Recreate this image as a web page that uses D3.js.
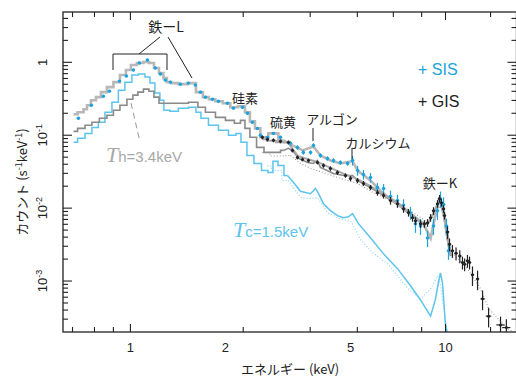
<!DOCTYPE html>
<html><head><meta charset="utf-8">
<script src="https://cdn.jsdelivr.net/npm/d3@7/dist/d3.min.js"></script>
<style>body{margin:0;background:#fff}svg{display:block}</style>
</head><body>
<svg id="c" width="516" height="380"></svg>
<script>
// ---------- data ----------
const sisE = [0.684,0.752,0.821,0.858,0.923,0.971,1.022,1.068,1.132,1.200,1.245,1.291,1.340,1.441,1.528,1.608,1.668,1.730,1.821,1.903,2.032,2.123,2.268,2.352,2.439,2.530,2.587,2.723,2.844,2.994,3.221,3.39,3.54,3.73,3.81,4.01,4.22,4.41,4.64,4.89,5.07,5.26,5.49,5.78,6.08,6.36,6.69,7.04,7.36,7.74,8.03,8.33,8.77,9.16,9.43,9.64,9.86,10.07,10.22];
const sisV = [0.171,0.258,0.343,0.402,0.553,0.648,0.783,0.978,1.076,0.835,0.690,0.570,0.535,0.502,0.519,0.487,0.390,0.333,0.312,0.293,0.275,0.235,0.242,0.200,0.151,0.124,0.0997,0.0936,0.106,0.0936,0.0774,0.0681,0.0581,0.0581,0.0726,0.0528,0.0481,0.0451,0.0423,0.0410,0.0451,0.0328,0.029,0.0263,0.0192,0.0186,0.0145,0.0127,0.011,0.00867,0.0061,0.0057,0.0039,0.0057,0.0092,0.0135,0.0112,0.0057,0.0026];
const sisErr = [0.04,0.04,0.04,0.04,0.04,0.04,0.04,0.04,0.04,0.04,0.04,0.04,0.04,0.04,0.04,0.04,0.04,0.04,0.04,0.04,0.04,0.04,0.04,0.04,0.04,0.04,0.04,0.04,0.04,0.04,0.07,0.07,0.07,0.07,0.07,0.07,0.07,0.07,0.07,0.07,0.15,0.15,0.15,0.15,0.15,0.15,0.2,0.2,0.2,0.2,0.25,0.25,0.25,0.25,0.25,0.25,0.25,0.25,0.25];

const gisE = [2.624,2.723,2.844,2.994,3.174,3.268,3.39,3.516,3.674,3.924,4.10,4.313,4.54,4.815,4.994,5.256,5.492,5.781,6.083,6.357,6.691,7.041,7.357,7.63,7.857,8.03,8.33,8.57,8.769,8.965,9.161,9.433,9.572,9.712,9.855,9.927,10.15,10.30,10.52,10.8,11.1,11.32,11.5,11.74,11.92,12.18,12.64,13.11,13.70,14.95,15.6];
const gisV = [0.0936,0.0878,0.0851,0.0824,0.0798,0.0619,0.0496,0.0466,0.0451,0.0423,0.0385,0.0350,0.0308,0.0280,0.0255,0.0239,0.0218,0.0192,0.0163,0.0149,0.0127,0.0115,0.0098,0.0087,0.0074,0.0067,0.0061,0.0061,0.0063,0.0074,0.0092,0.0115,0.0135,0.0119,0.0098,0.0079,0.0047,0.0032,0.0026,0.0024,0.0022,0.0018,0.0017,0.0019,0.0018,0.00122,0.00107,0.00057,0.00033,0.00025,0.00023];
const gisErr = [0.06,0.06,0.06,0.06,0.06,0.06,0.06,0.06,0.06,0.06,0.07,0.07,0.07,0.07,0.08,0.08,0.08,0.08,0.09,0.09,0.12,0.12,0.12,0.12,0.12,0.12,0.12,0.12,0.12,0.12,0.12,0.12,0.12,0.12,0.12,0.12,0.2,0.2,0.2,0.2,0.2,0.2,0.2,0.2,0.2,0.3,0.3,0.3,0.3,0.3,0.3];
const gisBin = [0.012,0.012,0.012,0.012,0.012,0.012,0.012,0.012,0.012,0.012,0.012,0.012,0.012,0.012,0.012,0.012,0.012,0.012,0.012,0.012,0.012,0.012,0.012,0.012,0.012,0.012,0.012,0.012,0.012,0.012,0.012,0.012,0.012,0.012,0.012,0.012,0.012,0.012,0.012,0.012,0.012,0.012,0.012,0.012,0.012,0.012,0.012,0.015,0.02,0.03,0.03];

const sisModelE = [0.66,0.70,0.72,0.736,0.763,0.792,0.821,0.864,0.903,0.950,0.985,1.022,1.076,1.124,1.166,1.21,1.255,1.291,1.32,1.37,1.473,1.562,1.668,1.73,1.82,1.90,2.03,2.12,2.27,2.35,2.44,2.53,2.64,2.84,3.06,3.27,3.52,3.81,4.01,4.31,4.64,5.07,5.26,5.78,6.36,7.04,7.74,8.52,8.97,9.3,9.57,9.86,10.15,10.37];
const sisModelV = [0.194,0.207,0.227,0.258,0.302,0.333,0.390,0.457,0.535,0.669,0.783,0.918,0.978,1.01,0.978,0.835,0.712,0.608,0.535,0.519,0.502,0.519,0.390,0.333,0.312,0.293,0.275,0.242,0.25,0.207,0.155,0.124,0.0936,0.106,0.0851,0.0726,0.0619,0.07,0.0528,0.0451,0.0410,0.044,0.0328,0.0239,0.0158,0.0115,0.0084,0.0061,0.0039,0.0084,0.0140,0.0084,0.0039,0.0024];

const gisModelE = [2.62,2.8,3.0,3.17,3.27,3.4,3.7,3.92,4.3,4.8,5.26,5.78,6.36,7.04,7.74,8.33,8.77,9.16,9.43,9.6,9.8,10.0,10.15,10.3,10.5];
const gisModelV = [0.088,0.084,0.080,0.079,0.065,0.052,0.046,0.043,0.036,0.029,0.025,0.020,0.0155,0.012,0.0085,0.0064,0.006,0.0085,0.0115,0.0135,0.011,0.007,0.0042,0.0025,0.0022];

// hot component Th = 3.4 keV (SIS: solid, GIS: dotted)
const hotE = [0.66,0.70,0.736,0.774,0.821,0.864,0.903,0.950,1.0,1.037,1.076,1.124,1.166,1.21,1.255,1.34,1.40,1.495,1.562,1.608,1.668,1.795,1.931,2.077,2.20,2.27,2.35,2.44,2.59,2.72,2.93,3.06,3.17,3.27,3.42,3.65,3.81,3.92,4.01,4.41,4.75,5.07,5.26,5.78,6.36,7.04,7.74,8.52,8.97,9.3,9.57,9.86,10.15,10.37];
const hotV = [0.113,0.124,0.137,0.151,0.171,0.188,0.220,0.258,0.312,0.355,0.390,0.429,0.402,0.333,0.275,0.275,0.275,0.275,0.284,0.284,0.242,0.207,0.176,0.160,0.146,0.160,0.124,0.0936,0.0681,0.0581,0.0581,0.0619,0.066,0.0619,0.0481,0.0423,0.041,0.0451,0.0361,0.0299,0.028,0.028,0.0239,0.0192,0.0149,0.0112,0.0081,0.0059,0.0038,0.0079,0.0131,0.0079,0.0036,0.0022];
const hotGisE = [2.62,2.93,3.22,3.465,3.73,4.10,4.64,5.26,5.91,6.69,7.74,8.64,9.1,9.5,9.78,10.15,10.5,11.0,11.7,12.9,13.7,14.95,15.74,16.5];
const hotGisV = [0.058,0.052,0.0528,0.041,0.035,0.0308,0.0255,0.0218,0.0163,0.0127,0.0092,0.0067,0.0072,0.0108,0.0092,0.0042,0.0024,0.0020,0.0015,0.00079,0.00042,0.00028,0.00022,0.0002];

// cool component Tc = 1.5 keV (SIS: solid, GIS: dotted)
const coolE = [0.66,0.70,0.736,0.774,0.809,0.852,0.896,0.936,0.985,1.037,1.084,1.141,1.166,1.227,1.254,1.30,1.369,1.473,1.585,1.644,1.705,1.835,1.974,2.123,2.202,2.285,2.404,2.53,2.683,2.783,2.886,2.994,3.151,3.29,3.465,3.728,3.867,3.953,4.10,4.313,4.54,4.745,4.92,5.068,5.295,5.78,6.357,7.04,7.743,8.33,8.965,9.297,9.50,9.64,9.78,10.0,10.15];
const coolV = [0.0798,0.0907,0.106,0.128,0.151,0.207,0.284,0.415,0.535,0.669,0.690,0.627,0.519,0.378,0.302,0.220,0.213,0.235,0.242,0.207,0.171,0.137,0.117,0.0997,0.106,0.0798,0.0528,0.0410,0.0328,0.0308,0.0438,0.0385,0.0280,0.0226,0.0170,0.0158,0.0186,0.0158,0.0115,0.00924,0.00788,0.0074,0.0076,0.0084,0.00612,0.00392,0.00236,0.00148,0.00086,0.00055,0.00033,0.00057,0.00097,0.00129,0.00094,0.00025,0.00019];
const coolGisE = [2.72,2.886,3.17,3.465,3.73,3.92,4.22,4.64,5.0,5.37,5.91,6.55,7.58,8.33,8.97,9.43,9.64,10.0,10.15];
const coolGisV = [0.038,0.0328,0.0239,0.0140,0.0135,0.014,0.0087,0.0071,0.0067,0.0037,0.0024,0.00172,0.00080,0.00057,0.00078,0.00118,0.00088,0.00028,0.00019];

const xTickMarks = [0.655,0.769,0.883,1,2.28,3.72,5.25,6.83,8.4,10,13.9];
const xMajorMarks = [1,10];
const xTickLabels = [1,2,5,10];
const yMajor = [1e-3,1e-2,1e-1,1];
const yLabels = [["10","-3"],["10","-2"],["10","-1"],["1",""]];

// ---------- layout ----------
const L=63, R=516.5, T=12, B=332;
const STEP_LIMIT = 3.0; // histogram steps drawn below this energy, finer bins look continuous above
const svg = d3.select('#c');
const x = d3.scaleLog().domain([0.611,16.8]).range([L,R]);
const y = d3.scaleLog().domain([2e-4,4.9]).range([B,T]);

const SANS = '"Liberation Sans", Arial, Helvetica, sans-serif';
const JP = '"Noto Sans CJK JP", "Noto Sans", sans-serif';

svg.append('defs').append('clipPath').attr('id','clip')
  .append('rect').attr('x',L).attr('y',T).attr('width',R-L).attr('height',B-T);
const g = svg.append('g').attr('clip-path','url(#clip)');

function stepLine(E,V,color,width,dash){
  const idx = E.map((e,i)=>i);
  let k = idx.findIndex(i=>E[i]>=STEP_LIMIT); if(k<0) k=E.length-1;
  const lo = idx.slice(0,k+1), hi = idx.slice(k);
  const mk = (ids,curve)=>{
    if(ids.length<2) return;
    const line = d3.line().x(i=>x(E[i])).y(i=>y(V[i])).curve(curve);
    const p = g.append('path').datum(ids).attr('d',line).attr('fill','none')
      .attr('stroke',color).attr('stroke-width',width).attr('stroke-linejoin','miter');
    if(dash) p.attr('stroke-dasharray',dash);
  };
  mk(lo,d3.curveStep);
  mk(hi,d3.curveLinear);
}

// dotted GIS components
stepLine(hotGisE,hotGisV,'#9a9a9a',1.1,'1,2');
stepLine(coolGisE,coolGisV,'#86d2f1',1.1,'1,2');
// SIS components
stepLine(coolE,coolV,'#5cc4ee',1.5);
stepLine(hotE,hotV,'#8a8a8a',1.6);
// models
stepLine(sisModelE,sisModelV,'#b8b8b8',2.6);
stepLine(gisModelE,gisModelV,'#a9a9a9',2.0);

function dataPts(E,V,err,bin,color,r){
  const grp = g.append('g');
  E.forEach((e,i)=>{
    const v=V[i], er=err[i], b=bin?bin[i]:0.012;
    grp.append('line').attr('x1',x(e)).attr('x2',x(e))
      .attr('y1',y(v*(1-er))).attr('y2',y(v*(1+er)))
      .attr('stroke',color).attr('stroke-width',1.2);
    grp.append('line').attr('x1',x(e*(1-b))).attr('x2',x(e*(1+b)))
      .attr('y1',y(v)).attr('y2',y(v)).attr('stroke',color).attr('stroke-width',1.2);
    grp.append('circle').attr('cx',x(e)).attr('cy',y(v)).attr('r',r).attr('fill',color);
  });
}
dataPts(sisE,sisV,sisErr,null,'#1ba3de',1.7);
dataPts(gisE,gisV,gisErr,gisBin,'#222',1.5);

// ---------- frame & axes ----------
svg.append('rect').attr('x',L).attr('y',T).attr('width',R-L).attr('height',B-T)
  .attr('fill','none').attr('stroke','#222').attr('stroke-width',1.3);

const ax = svg.append('g').attr('stroke','#222').attr('stroke-width',1.1);
xTickMarks.forEach(v=>{
  const len = xMajorMarks.includes(v)?8:5;
  ax.append('line').attr('x1',x(v)).attr('x2',x(v)).attr('y1',B).attr('y2',B-len);
  ax.append('line').attr('x1',x(v)).attr('x2',x(v)).attr('y1',T).attr('y2',T+len);
});
const yMinor = [];
for(let d=-4; d<=0; d++) for(let k=2;k<=9;k++){ const v=k*Math.pow(10,d); if(v>2e-4 && v<4.9) yMinor.push(v); }
yMinor.forEach(v=>{
  ax.append('line').attr('x1',L).attr('x2',L+5).attr('y1',y(v)).attr('y2',y(v));
  ax.append('line').attr('x1',R).attr('x2',R-5).attr('y1',y(v)).attr('y2',y(v));
});
yMajor.forEach(v=>{
  ax.append('line').attr('x1',L).attr('x2',L+9).attr('y1',y(v)).attr('y2',y(v));
  ax.append('line').attr('x1',R).attr('x2',R-9).attr('y1',y(v)).attr('y2',y(v));
});

// x labels
svg.append('g').selectAll('text').data(xTickLabels).join('text')
  .attr('x',d=>x(d)).attr('y',352).attr('text-anchor','middle')
  .attr('font-family',SANS).attr('font-size',13).attr('fill','#222').text(d=>d);

// y labels (rotated)
yMajor.forEach((v,i)=>{
  const t = svg.append('text').attr('transform',`translate(47,${y(v)}) rotate(-90)`)
    .attr('text-anchor','middle').attr('font-family',SANS).attr('font-size',13).attr('fill','#222');
  t.append('tspan').text(yLabels[i][0]);
  if(yLabels[i][1]) t.append('tspan').attr('dy',-5).attr('font-size',9).text(yLabels[i][1]);
});

// axis titles
svg.append('text').attr('x',290).attr('y',374).attr('text-anchor','middle')
  .attr('font-family',JP).attr('font-size',13).attr('fill','#222').text('エネルギー (keV)');
const yt = svg.append('text').attr('transform','translate(27,182) rotate(-90)').attr('text-anchor','middle')
  .attr('font-family',JP).attr('font-size',13).attr('fill','#222');
yt.append('tspan').text('カウント (s');
yt.append('tspan').attr('dy',-5).attr('font-size',9).text('-1');
yt.append('tspan').attr('dy',5).text('keV');
yt.append('tspan').attr('dy',-5).attr('font-size',9).text('-1');
yt.append('tspan').attr('dy',5).text(')');

// ---------- annotations ----------
const an = svg.append('g').attr('stroke','#222').attr('stroke-width',1).attr('fill','none');
an.append('path').attr('d','M113,70V54H167V70');
an.append('line').attr('x1',139).attr('y1',54).attr('x2',160).attr('y2',37);
an.append('line').attr('x1',168).attr('y1',37).attr('x2',192).attr('y2',78);
an.append('line').attr('x1',313).attr('y1',128).attr('x2',313).attr('y2',141);
an.append('line').attr('x1',352).attr('y1',148).attr('x2',352).attr('y2',159);
svg.append('line').attr('x1',131).attr('y1',103).attr('x2',140).attr('y2',142)
  .attr('stroke','#999').attr('stroke-width',1).attr('stroke-dasharray','6,4');

function jp(tx,xx,yy,size){
  svg.append('text').attr('x',xx).attr('y',yy).attr('text-anchor','middle')
    .attr('font-family',JP).attr('font-size',size||13).attr('fill','#222').text(tx);
}
jp('鉄ーL',166,32,14);
jp('硅素',245,103,13);
jp('硫黄',283,127,13);
jp('アルゴン',332,124,13);
jp('カルシウム',378,148,13);
jp('鉄ーK',440,188,13);

function tlabel(xx,yy,sub,color){
  const t = svg.append('text').attr('x',xx).attr('y',yy).attr('fill',color);
  t.append('tspan').attr('font-family','"Liberation Serif", "DejaVu Serif", serif').attr('font-style','italic').attr('font-size',22).text('T');
  t.append('tspan').attr('font-family',SANS).attr('font-size',15).text(sub);
}
tlabel(106,162,'h=3.4keV','#a8a8a8');
tlabel(233,237,'c=1.5keV','#5cc4ee');

// legend
svg.append('text').attr('x',418).attr('y',75).attr('font-family',SANS).attr('font-size',16).attr('fill','#1ba3de').text('+ SIS');
svg.append('text').attr('x',418).attr('y',107).attr('font-family',SANS).attr('font-size',16).attr('fill','#222').text('+ GIS');
</script>
</body></html>
